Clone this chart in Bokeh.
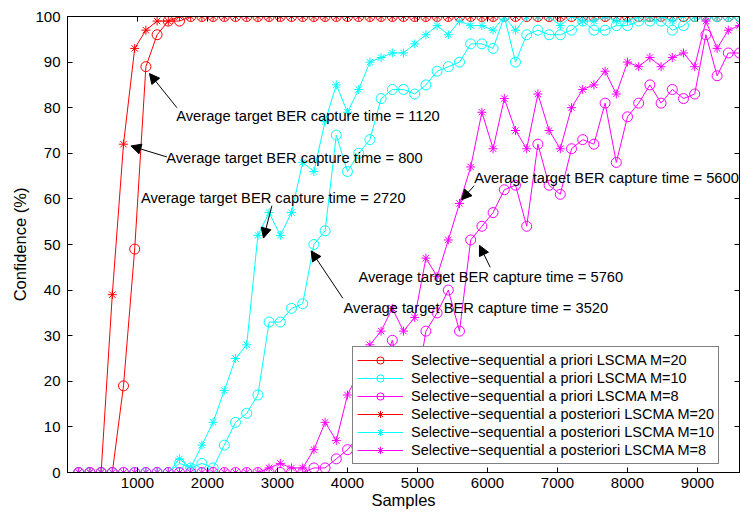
from bokeh.plotting import figure
from bokeh.models import (Range1d, LinearAxis, FixedTicker, Label, Arrow,
                          NormalHead, Legend, LegendItem)
from bokeh.embed import file_html
from bokeh.resources import INLINE

# Sample index (one observation every 160 samples)
samples = list(range(160, 9601, 160))

# Confidence (%) per sample for each scheme
apriori_m20 = [0, 0, 0, 0, 19, 49, 89, 96, 99, 99,
               100, 100, 100, 100, 100, 100, 100, 100, 100, 100,
               100, 100, 100, 100, 100, 100, 100, 100, 100, 100,
               100, 100, 100, 100, 100, 100, 100, 100, 100, 100,
               100, 100, 100, 100, 100, 100, 100, 100, 100, 100,
               100, 100, 100, 100, 100, 100, 100, 100, 100, 100]
apriori_m10 = [0, 0, 0, 0, 0, 0, 0, 0, 0, 2,
               1, 2, 1, 6, 11, 13, 17, 33, 33, 36,
               37, 50, 53, 74, 66, 70, 73, 82, 84, 84,
               83, 85, 88, 89, 90, 94, 94, 93, 100, 90,
               96, 97, 96, 96, 97, 99, 97, 97, 98, 98,
               99, 99, 99, 97, 98, 100, 100, 100, 100, 100]
apriori_m8 = [0, 0, 0, 0, 0, 0, 0, 0, 0, 0,
              0, 0, 0, 0, 0, 0, 0, 0, 0, 0,
              0, 1, 1, 3, 5, 8, 14, 22, 29, 18,
              16, 31, 35, 40, 31, 51, 54, 57, 62, 63,
              54, 72, 63, 61, 71, 73, 72, 81, 68, 78,
              81, 85, 81, 84, 82, 83, 96, 87, 92, 92]
aposteriori_m20 = [0, 0, 0, 39, 72, 93, 97, 99, 99, 100,
                   100, 100, 100, 100, 100, 100, 100, 100, 100, 100,
                   100, 100, 100, 100, 100, 100, 100, 100, 100, 100,
                   100, 100, 100, 100, 100, 100, 100, 100, 100, 100,
                   100, 100, 100, 100, 100, 100, 100, 100, 100, 100,
                   100, 100, 100, 100, 100, 100, 100, 100, 100, 100]
aposteriori_m10 = [0, 0, 0, 0, 0, 0, 0, 0, 0, 3,
                   1, 6, 11, 18, 25, 28, 52, 57, 52, 57,
                   68, 66, 77, 85, 79, 84, 90, 91, 92, 92,
                   94, 96, 98, 96, 99, 98, 98, 97, 100, 97,
                   100, 100, 100, 98, 100, 99, 99, 100, 99, 99,
                   100, 100, 100, 99, 100, 100, 100, 100, 100, 100]
aposteriori_m8 = [0, 0, 0, 0, 0, 0, 0, 0, 0, 0,
                  0, 0, 0, 0, 0, 0, 0, 1, 2, 1,
                  1, 5, 11, 7, 17, 22, 28, 31, 36, 31,
                  34, 47, 43, 51, 59, 67, 79, 71, 82, 75,
                  71, 83, 75, 71, 80, 84, 85, 88, 83, 90,
                  89, 91, 89, 91, 92, 89, 99, 93, 97, 98]

series_labels = [
    "Selective\u2212sequential a priori LSCMA M=20",
    "Selective\u2212sequential a priori LSCMA M=10",
    "Selective\u2212sequential a priori LSCMA M=8",
    "Selective\u2212sequential a posteriori LSCMA M=20",
    "Selective\u2212sequential a posteriori LSCMA M=10",
    "Selective\u2212sequential a posteriori LSCMA M=8",
]
series_values = [apriori_m20, apriori_m10, apriori_m8,
                 aposteriori_m20, aposteriori_m10, aposteriori_m8]
series_colors = ["#ff0000", "#00ffff", "#ff00ff",
                 "#ff0000", "#00ffff", "#ff00ff"]
series_markers = ["circle", "circle", "circle",
                  "asterisk", "asterisk", "asterisk"]

# Average capture times quoted in the annotations
capture_times = [1120, 800, 2720, 3520, 5600, 5760]

x_ticks = [1000, 2000, 3000, 4000, 5000, 6000, 7000, 8000, 9000]
y_ticks = [0, 10, 20, 30, 40, 50, 60, 70, 80, 90, 100]

FONT = "Liberation Sans"

p = figure(frame_width=672, frame_height=456,
           min_border_left=67, min_border_right=2,
           min_border_top=16, min_border_bottom=43,
           x_range=Range1d(0, 9600), y_range=Range1d(0, 100),
           output_backend="svg", toolbar_location=None)

p.background_fill_color = "white"
p.border_fill_color = "white"
p.outline_line_color = "black"
p.outline_line_width = 1
p.xgrid.visible = False
p.ygrid.visible = False

for ax in p.xaxis:
    ax.ticker = FixedTicker(ticks=x_ticks)
    ax.axis_label = "Samples"
    ax.major_label_standoff = 5
    ax.axis_label_standoff = 0
for ax in p.yaxis:
    ax.ticker = FixedTicker(ticks=y_ticks)
    ax.axis_label = "Confidence (%)"
    ax.major_label_standoff = 7
    ax.axis_label_standoff = 3

for ax in list(p.xaxis) + list(p.yaxis):
    ax.major_tick_in = 5
    ax.major_tick_out = 0
    ax.minor_tick_in = 0
    ax.minor_tick_out = 0
    ax.axis_line_color = "black"
    ax.major_tick_line_color = "black"
    ax.major_label_text_font = FONT
    ax.major_label_text_font_size = "15px"
    ax.major_label_text_color = "black"
    ax.axis_label_text_font = FONT
    ax.axis_label_text_font_size = "16.5px"
    ax.axis_label_text_font_style = "normal"
    ax.axis_label_text_color = "black"

# Mirror ticks on the top and right edges of the box (no labels)
top_axis = LinearAxis(ticker=FixedTicker(ticks=x_ticks), major_tick_in=5,
                      major_tick_out=0, minor_tick_in=0, minor_tick_out=0,
                      major_label_text_font_size="1px", major_label_standoff=0,
                      major_label_text_color=None, axis_line_color="black")
right_axis = LinearAxis(ticker=FixedTicker(ticks=y_ticks), major_tick_in=5,
                        major_tick_out=0, minor_tick_in=0, minor_tick_out=0,
                        major_label_text_font_size="1px", major_label_standoff=0,
                        major_label_text_color=None, axis_line_color="black")
p.add_layout(top_axis, "above")
p.add_layout(right_axis, "right")

renderers = []
for vals, col, mk in zip(series_values, series_colors, series_markers):
    ln = p.line(samples, vals, line_color=col, line_width=1)
    sc = p.scatter(samples, vals, marker=mk, size=10 if mk == "circle" else 9,
                   line_color=col, fill_color=None, line_width=1)
    renderers.append([ln, sc])

# Annotation placement: text anchor, arrow tail and arrow tip (data units)
text_pos = [(1553, 78.2), (1410, 69.0), (1049, 60.2),
            (3943, 36.1), (5810, 64.6), (4157, 42.9)]
arrow_tail = [(1563, 80.0), (1420, 69.2), (2920, 58.5),
              (3934, 38.2), (5810, 62.9), (6039, 45.0)]
arrow_tip = [(1171, 87.5), (906, 71.6), (2800, 51.4),
             (3481, 48.6), (5630, 59.8), (5886, 49.8)]

for t, (tx, ty), (ax0, ay0), (ax1, ay1) in zip(capture_times, text_pos,
                                                arrow_tail, arrow_tip):
    p.add_layout(Label(x=tx, y=ty, text=f"Average target BER capture time = {t}",
                       text_font=FONT, text_font_size="14.7px", text_color="black",
                       text_align="left", text_baseline="middle"))
    p.add_layout(Arrow(x_start=ax0, y_start=ay0, x_end=ax1, y_end=ay1,
                       line_color="black", line_width=1,
                       end=NormalHead(size=10, fill_color="black",
                                      line_color="black", line_width=1)))

legend = Legend(items=[LegendItem(label=lab, renderers=r)
                       for lab, r in zip(series_labels, renderers)],
                location=(285, 8))
legend.border_line_color = "black"
legend.border_line_width = 1
legend.background_fill_color = "white"
legend.background_fill_alpha = 1.0
legend.label_text_font = FONT
legend.label_text_font_size = "14.5px"
legend.label_text_color = "black"
legend.glyph_width = 46
legend.glyph_height = 18
legend.label_height = 18
legend.label_standoff = 8
legend.spacing = 0
legend.padding = 4
legend.margin = 0
p.add_layout(legend, "center")

open("out.html", "w").write(file_html(p, INLINE))
